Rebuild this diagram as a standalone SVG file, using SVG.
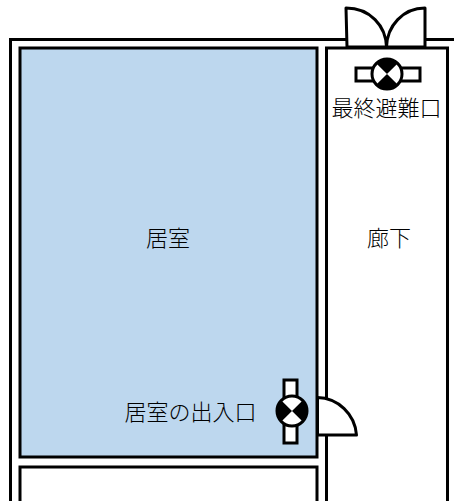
<svg xmlns="http://www.w3.org/2000/svg" width="454" height="503" viewBox="0 0 454 503">
<style>
.w{fill:none;stroke:#000;stroke-width:3}
.d{fill:#fff;stroke:#000;stroke-width:3;stroke-linejoin:round}
.t{font-family:"Noto Sans CJK JP","Liberation Serif",serif;font-size:22px;font-weight:300;fill:#000;text-anchor:middle}
</style>
<defs>
<g id="lamp"><circle r="15" fill="#fff" stroke="#000" stroke-width="3"/><path d="M-10.600-10.600A15 15 0 0 1 10.600-10.600L0 0ZM-10.600 10.600A15 15 0 0 0 10.600 10.600L0 0Z" fill="#000"/></g>
</defs>
<g id="connectors">
<path class="w" d="M10.500 501V39.500H346M425 39.500H454"/>
<path class="w" d="M20 501V467H317V501"/>
<path class="w" d="M326.500 501V48H447.500V501"/>
</g>
<g id="room"><rect x="20" y="48" width="297" height="409" fill="#bdd7ee" stroke="#000" stroke-width="3"/><text class="t" x="168" y="246">居室</text></g>
<g id="corridor"><text class="t" x="389" y="246">廊下</text></g>
<g id="exit-door"><path class="d" d="M347 47L346 8C370 8 386 26 386.500 47ZM425 47V8C403 8 387 26 386.500 47Z"/></g>
<g id="exit-lamp"><rect x="356" y="68" width="64" height="13" fill="#fff" stroke="#000" stroke-width="3"/><use href="#lamp" x="387" y="74"/><text class="t" x="386.500" y="116">最終避難口</text></g>
<g id="room-door"><path class="d" d="M317.500 397.500C338 398 355 414 356.500 435H317.500Z"/></g>
<g id="room-lamp"><rect x="284" y="380" width="13" height="63" fill="#fff" stroke="#000" stroke-width="3"/><use href="#lamp" transform="translate(292 411) rotate(90)"/><text class="t" x="190.500" y="420">居室の出入口</text></g>
</svg>
